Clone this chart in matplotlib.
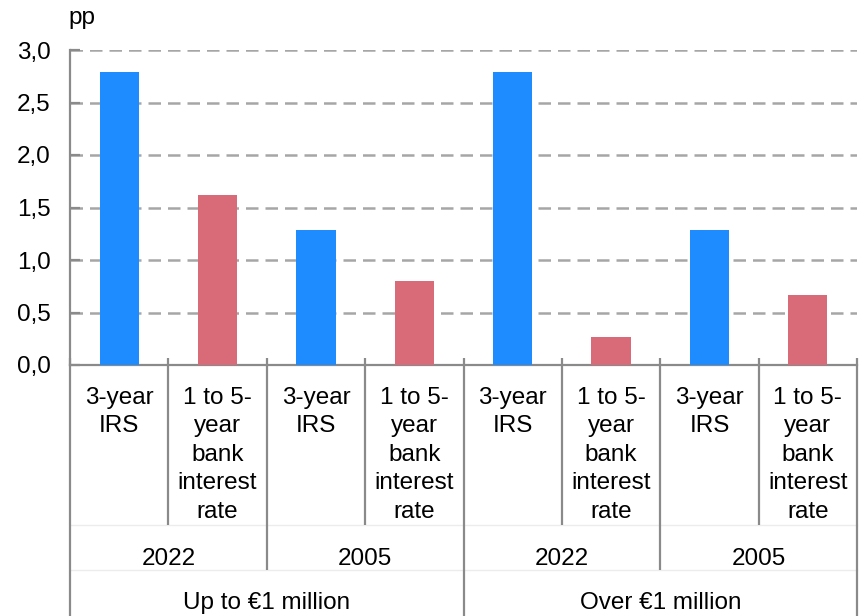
import numpy as np
import matplotlib.pyplot as plt
import matplotlib.transforms as mtransforms

plt.rcParams['font.family'] = ['Liberation Sans', 'DejaVu Sans']

# Spread over a 1-5 year horizon, by loan size and year
series = ["3-year\nIRS", "1 to 5-\nyear\nbank\ninterest\nrate"]
years = ["2022", "2005"]
groups = ["Up to €1 million", "Over €1 million"]
values = [2.79, 1.62, 1.29, 0.80,
          2.79, 0.27, 1.29, 0.67]
colors = ["#1e8cff", "#d96b78"]

yticks = [0.0, 0.5, 1.0, 1.5, 2.0, 2.5, 3.0]
ytick_labels = ["0,0", "0,5", "1,0", "1,5", "2,0", "2,5", "3,0"]

W, H = 863, 616
fs = 17.5
fig = plt.figure(figsize=(W / 100, H / 100), dpi=100)
ax = fig.add_axes([70 / W, (H - 365) / H, (857 - 70) / W, (365 - 50) / H])

n = len(values)
x = np.arange(n) + 0.5
bar_colors = [colors[i % 2] for i in range(n)]
ax.bar(x, values, width=0.4, color=bar_colors, zorder=3)

ax.set_xlim(0, n)
ax.set_ylim(0, 3.0)
ax.set_yticks(yticks)
ax.set_yticklabels(ytick_labels)
ax.set_xticks(np.arange(n + 1))
ax.set_xticklabels([])

gray = "#8a8a8a"
for s in ["top", "right"]:
    ax.spines[s].set_visible(False)
for s in ["left", "bottom"]:
    ax.spines[s].set_color(gray)
    ax.spines[s].set_linewidth(1.6)

ax.tick_params(axis="y", direction="in", length=7, width=1.6, color=gray,
               labelsize=fs, pad=14)
ax.tick_params(axis="x", direction="in", length=5, width=1.6, color=gray)

for yv in yticks[1:]:
    ax.axhline(yv, color="#a6a6a6", lw=1.8, ls=(0, (5.0, 2.8)), zorder=1)

# multi-level category axis below the plot
tr = mtransforms.blended_transform_factory(ax.transData, ax.transAxes)
px = lambda p: (365 - p) / (365 - 50)

for k in range(n + 1):
    if k % 4 == 0:
        y_end = px(H + 5)
    elif k % 2 == 0:
        y_end = px(570)
    else:
        y_end = px(525)
    ax.plot([k, k], [0, y_end], color=gray, lw=1.6, transform=tr,
            clip_on=False, solid_capstyle="butt")

for yl in (525, 570):
    ax.plot([0, n], [px(yl), px(yl)], color="#ececec", lw=1.0,
            transform=tr, clip_on=False, zorder=0)

for i in range(n):
    ax.text(x[i], px(387), series[i % 2], ha="center", va="top",
            fontsize=fs, linespacing=1.38, transform=tr)

for j in range(n // 2):
    ax.text(2 * j + 1, px(559), years[j % 2], ha="center", va="center",
            fontsize=fs, transform=tr)

for g in range(2):
    ax.text(4 * g + 2, px(603), groups[g], ha="center", va="center",
            fontsize=fs, transform=tr)

fig.text(68 / W, 1 - 18 / H, "pp", ha="left", va="center", fontsize=fs)

fig.savefig("out.png", dpi=100)
